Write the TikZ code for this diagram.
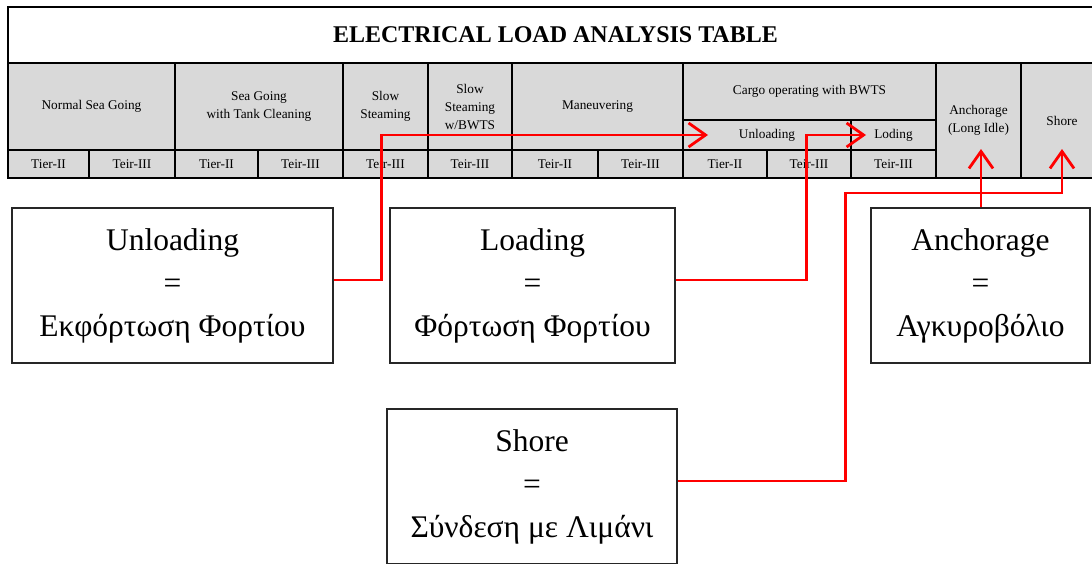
\documentclass[tikz,border=0pt]{standalone}
\usepackage{fontspec}
\setmainfont{Liberation Serif}
\usetikzlibrary{arrows.meta}
\definecolor{cellgray}{RGB}{217,217,217}
\definecolor{linkred}{RGB}{255,0,0}
\newcommand\tcell[7][cell]{%
  \node[#1, minimum width={#5-#3}, minimum height={#6-#4}] (#2) at ({(#3+#5)/2},{(#4+#6)/2}) {#7};}
\begin{document}
\begin{tikzpicture}[x=1pt,y=-1pt,
  cell/.style={draw=black, line width=2pt, fill=cellgray, inner sep=0pt, align=center,
    font=\fontsize{13.3}{18}\selectfont},
  titlecell/.style={cell, fill=white, font=\fontsize{24}{28}\selectfont\bfseries},
  bigbox/.style={draw=black!85, line width=1.2pt, fill=white, align=center, inner sep=0pt,
    font=\fontsize{31.5}{43}\selectfont},
  link/.style={draw=linkred, line width=2.8pt, -{Straight Barb[length=17pt,width=24pt,line width=2.8pt]}}]
\useasboundingbox (0,0) rectangle (1092,563);
% table
\tcell[titlecell]{title}{8}{7}{1103}{63}{ELECTRICAL LOAD ANALYSIS TABLE}
\tcell{nsg}{8}{63}{175}{150}{Normal Sea Going}
\tcell{sgtc}{175}{63}{343}{150}{Sea Going\\with Tank Cleaning}
\tcell{ss}{343}{63}{428}{150}{Slow\\Steaming}
\tcell{ssb}{428}{63}{512}{150}{Slow\\Steaming\\w/BWTS}
\tcell{man}{512}{63}{683}{150}{Maneuvering}
\tcell{cargo}{683}{63}{936}{120}{Cargo operating with BWTS}
\tcell{cunl}{683}{120}{851}{150}{Unloading}
\tcell{clod}{851}{120}{936}{150}{Loding}
\tcell{canch}{936}{63}{1021}{178}{Anchorage\\(Long Idle)}
\tcell{cshore}{1021}{63}{1103}{178}{Shore}
\tcell{ta}{8}{150}{89}{178}{Tier-II}
\tcell{tb}{89}{150}{175}{178}{Teir-III}
\tcell{tc}{175}{150}{258}{178}{Tier-II}
\tcell{td}{258}{150}{343}{178}{Teir-III}
\tcell{te}{343}{150}{428}{178}{Teir-III}
\tcell{tf}{428}{150}{512}{178}{Teir-III}
\tcell{tg}{512}{150}{598}{178}{Teir-II}
\tcell{th}{598}{150}{683}{178}{Teir-III}
\tcell{ti}{683}{150}{767}{178}{Tier-II}
\tcell{tj}{767}{150}{851}{178}{Teir-III}
\tcell{tk}{851}{150}{936}{178}{Teir-III}
% boxes
\tcell[bigbox]{bunl}{12}{208}{333}{363}{Unloading\\=\\Εκφόρτωση Φορτίου}
\tcell[bigbox]{blod}{390}{208}{675}{363}{Loading\\=\\Φόρτωση Φορτίου}
\tcell[bigbox]{banch}{871}{208}{1090}{363}{Anchorage\\=\\Αγκυροβόλιο}
\tcell[bigbox]{bshore}{387}{409}{677}{564}{Shore\\=\\Σύνδεση με Λιμάνι}
% targets
\coordinate (tunl) at (708,135);
\coordinate (tlod) at (866,135);
\coordinate (tanch) at (981,149);
\coordinate (tshore) at (1062,149);
% links
\draw[link] ([yshift=5.5pt]bunl.east) -- ++(48,0) |- (tunl);
\draw[link] ([yshift=5.5pt]blod.east) -- ++(131,0) |- (tlod);
\draw[link] (banch.north -| tanch) -- (tanch);
\draw[link] ([yshift=5.5pt]bshore.east) -- ++(168,0) |- (1062,193) -- (tshore);
\end{tikzpicture}
\end{document}
